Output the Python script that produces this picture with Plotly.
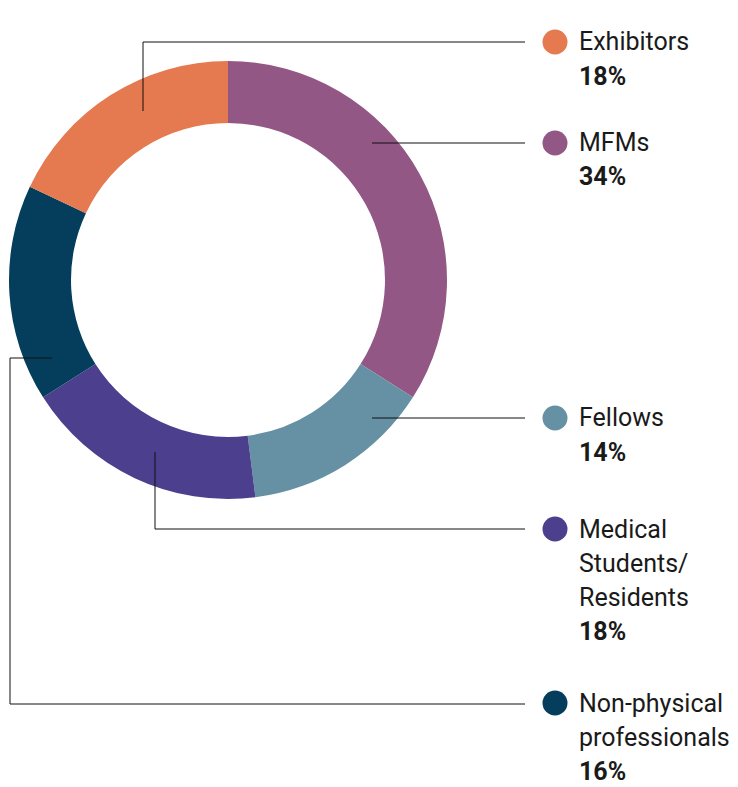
import plotly.graph_objects as go

# ---- data ----
categories = ["MFMs", "Fellows", "Medical Students/Residents", "Non-physical professionals", "Exhibitors"]
values = [34, 14, 18, 16, 18]
colors = ["#935786", "#6691A4", "#4B3F8E", "#053E5D", "#E5794F"]
label_lines = [["MFMs"], ["Fellows"], ["Medical", "Students/", "Residents"],
               ["Non-physical", "professionals"], ["Exhibitors"]]

# ---- layout constants (pixels) ----
W, H = 738, 787
CX, CY, R = 228, 280, 219
label_top = {"Exhibitors": 42, "MFMs": 143, "Fellows": 418,
             "Medical Students/Residents": 529, "Non-physical professionals": 703}
# leader line paths (pixels), ending at x=525
leaders = {
    "Exhibitors": [(143, 111), (143, 42), (525, 42)],
    "MFMs": [(372, 143), (525, 143)],
    "Fellows": [(372, 418), (525, 418)],
    "Medical Students/Residents": [(155, 452), (155, 529), (525, 529)],
    "Non-physical professionals": [(52, 358), (10, 358), (10, 704), (525, 704)],
}
LINE_H = 34
MARK_X, TEXT_X = 555, 578
FONT = "Roboto, Arial, sans-serif"
TXT = "#1a1a1a"


def px(x, y):
    return x / W, 1 - y / H


fig = go.Figure(go.Pie(
    labels=categories, values=values, sort=False, direction="clockwise",
    rotation=0, hole=157 / 219, textinfo="none", hoverinfo="skip",
    marker=dict(colors=colors, line=dict(width=0)),
    domain=dict(x=[(CX - R) / W, (CX + R) / W], y=[1 - (CY + R) / H, 1 - (CY - R) / H]),
    showlegend=False,
))

shapes = []
annotations = []
for cat, val, col, lines in zip(categories, values, colors, label_lines):
    pts = leaders[cat]
    path = "M " + " L ".join(f"{px(x, y)[0]},{px(x, y)[1]}" for x, y in pts)
    shapes.append(dict(type="path", xref="paper", yref="paper", path=path,
                       line=dict(color="#111111", width=1)))
    y0 = label_top[cat]
    mx, my = px(MARK_X, y0)
    shapes.append(dict(type="circle", xref="paper", yref="paper",
                       xsizemode="pixel", ysizemode="pixel", xanchor=mx, yanchor=my,
                       x0=-12.5, x1=12.5, y0=-12.5, y1=12.5,
                       fillcolor=col, line=dict(width=0)))
    for i, t in enumerate(lines + [f"<b>{val}%</b>"]):
        tx, ty = px(TEXT_X, y0 + i * LINE_H)
        annotations.append(dict(x=tx, y=ty, xref="paper", yref="paper", text=t,
                                showarrow=False, xanchor="left", yanchor="middle",
                                borderpad=0,
                                font=dict(family=FONT, size=25, color=TXT)))

fig.update_layout(width=W, height=H, margin=dict(l=0, r=0, t=0, b=0),
                  paper_bgcolor="white", plot_bgcolor="white",
                  shapes=shapes, annotations=annotations)
fig.write_html("out.html", config={"displayModeBar": False},
               post_script="document.body.style.margin='0';document.body.style.overflow='hidden';")
